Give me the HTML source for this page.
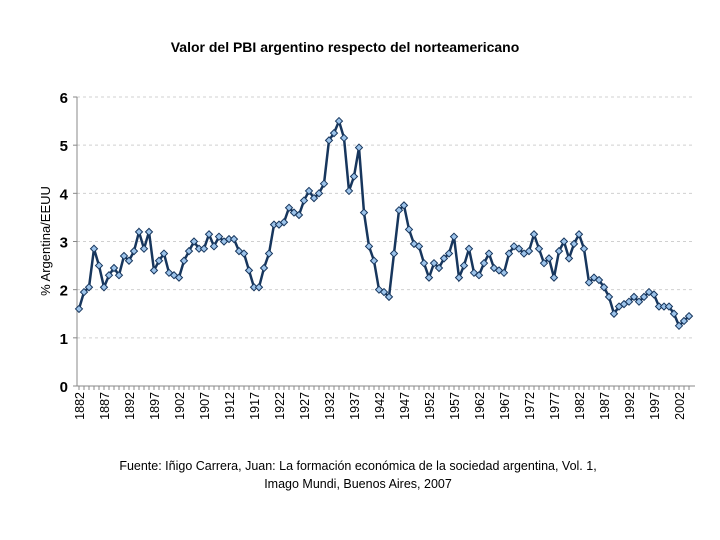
<!DOCTYPE html>
<html><head><meta charset="utf-8"><style>
body{margin:0;background:#fff;}
svg{display:block;font-family:"Liberation Sans",sans-serif;}
</style></head><body>
<svg id="c" width="720" height="540">
<text x="345" y="52" text-anchor="middle" font-size="14" font-weight="bold">Valor del PBI argentino respecto del norteamericano</text>
<text transform="translate(50,241) rotate(-90)" text-anchor="middle" font-size="13">% Argentina/EEUU</text>
<text x="358" y="470" text-anchor="middle" font-size="12.5">Fuente: Iñigo Carrera, Juan: La formación económica de la sociedad argentina, Vol. 1,</text>
<text x="358" y="488" text-anchor="middle" font-size="12.5">Imago Mundi, Buenos Aires, 2007</text>
<g id="grid"></g><g id="axes"></g><g id="series"></g>
</svg>
<script>
const years=[];for(let y=1882;y<=2004;y++)years.push(y);
const values=[1.6,1.95,2.05,2.85,2.5,2.05,2.3,2.45,2.3,2.7,2.6,2.8,3.2,2.85,3.2,2.4,2.6,2.75,2.35,2.3,2.25,2.6,2.8,3.0,2.85,2.85,3.15,2.9,3.1,3.0,3.05,3.05,2.8,2.75,2.4,2.05,2.05,2.45,2.75,3.35,3.35,3.4,3.7,3.6,3.55,3.85,4.05,3.9,4.0,4.2,5.1,5.25,5.5,5.15,4.05,4.35,4.95,3.6,2.9,2.6,2.0,1.95,1.85,2.75,3.65,3.75,3.25,2.95,2.9,2.55,2.25,2.55,2.45,2.65,2.75,3.1,2.25,2.5,2.85,2.35,2.3,2.55,2.75,2.45,2.4,2.35,2.75,2.9,2.85,2.75,2.8,3.15,2.85,2.55,2.65,2.25,2.8,3.0,2.65,2.95,3.15,2.85,2.15,2.25,2.2,2.05,1.85,1.5,1.65,1.7,1.75,1.85,1.75,1.85,1.95,1.9,1.65,1.65,1.65,1.5,1.25,1.35,1.45];
const yTicks=[0,1,2,3,4,5,6];
const xLabels=[];for(let y=1882;y<=2002;y+=5)xLabels.push(y);
const NS="http://www.w3.org/2000/svg";
const X0=77,X1=695,Y0=386,Y6=97;
const xs=y=>79+(y-1882)*5;
const ys=v=>Y0-(v/6)*(Y0-Y6);
function mk(t,a,p){const e=document.createElementNS(NS,t);for(const k in a)e.setAttribute(k,a[k]);p.appendChild(e);return e;}
const grid=document.getElementById('grid'),axes=document.getElementById('axes'),ser=document.getElementById('series');
yTicks.forEach(v=>{
 if(v>0){const g=mk('line',{x1:X0,x2:X1,y1:ys(v),y2:ys(v),stroke:'#d0d0d0','stroke-dasharray':'3,3'},grid);
 
 }
 const t=mk('text',{x:68,y:ys(v)+6,'text-anchor':'end','font-size':15,'font-weight':'bold'},axes);t.textContent=v;
 
 
 mk('line',{x1:X0-4,x2:X0,y1:ys(v),y2:ys(v),stroke:'#888'},axes);
});
const ya=mk('line',{x1:X0,x2:X0,y1:Y6,y2:Y0,stroke:'#888'},axes);


const xa=mk('line',{x1:X0,x2:X1,y1:Y0,y2:Y0,stroke:'#888'},axes);


years.forEach(y=>mk('line',{x1:xs(y),x2:xs(y),y1:Y0,y2:Y0+4,stroke:'#888'},axes));
xLabels.forEach(y=>{const t=mk('text',{transform:`translate(${xs(y)+5},392) rotate(-90)`,'text-anchor':'end','font-size':12.5},axes);t.textContent=y;
 
 });
const pts=years.map((y,i)=>xs(y)+','+ys(values[i])).join(' ');
const pl=mk('polyline',{points:pts,fill:'none',stroke:'#17365d','stroke-width':2.5},ser);


years.forEach((y,i)=>{const x=xs(y),v=ys(values[i]);
 const m=mk('polygon',{points:`${x},${v-3.5} ${x+3.5},${v} ${x},${v+3.5} ${x-3.5},${v}`,fill:'#9cc3ea',stroke:'#17365d','stroke-width':1},ser);
 
 });
</script>
</body></html>
